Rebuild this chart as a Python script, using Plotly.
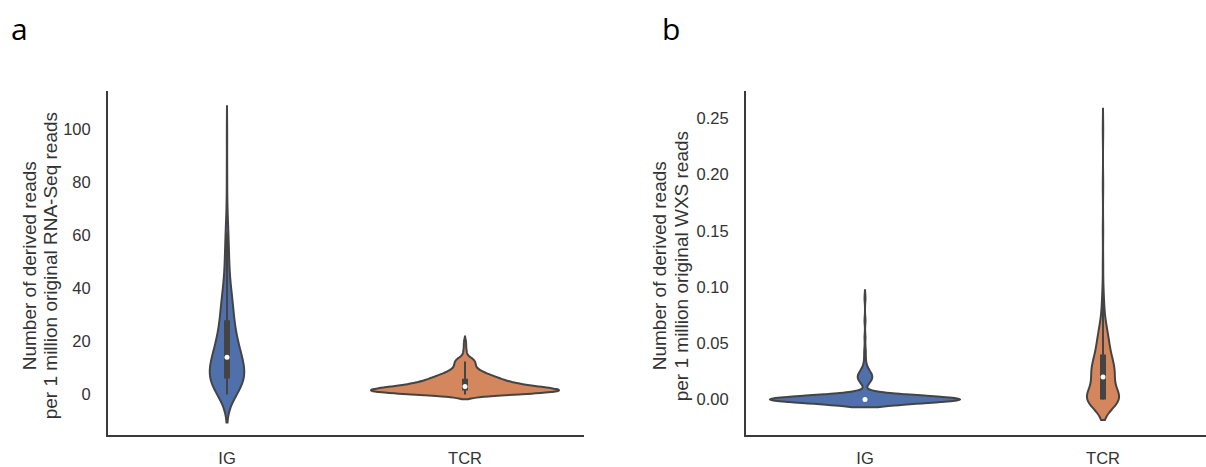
import numpy as np
import plotly.graph_objects as go

categories = ["IG", "TCR"]

# Panel a: derived reads per 1 million RNA-Seq reads (sample values and how many samples share each)
ig_rna_values = [0, 2, 4, 6, 8, 10, 12, 14, 16, 18, 20, 22, 25, 28, 31, 34, 37, 40, 44, 48, 52, 56, 60, 64, 68, 75, 85, 98]
ig_rna_counts = [11, 15, 17, 19, 19, 17, 15, 13, 12, 11, 10, 10, 10, 10, 9, 8, 7, 6, 5, 4, 4, 3, 3, 2, 1, 1, 1, 1]
tcr_rna_values = [0, 0.5, 1, 1.5, 2, 2.5, 3, 3.5, 4, 4.5, 5, 5.5, 6, 6.5, 7, 7.5, 8, 8.5, 9, 9.5,
                  10, 10.5, 11, 11.5, 12, 12.5, 13, 13.5, 14, 15, 16, 17, 18.5, 20]
tcr_rna_counts = [20, 26, 30, 31, 28, 24, 20, 17, 15, 13, 12, 11, 10, 9, 8, 7, 6, 5, 4, 4,
                  3, 3, 3, 3, 3, 3, 3, 2, 2, 1, 1, 1, 1, 1]

# Panel b: derived reads per 1 million WXS reads
ig_wxs_values = [0, 0.014, 0.017, 0.02, 0.023, 0.026, 0.03, 0.035, 0.04, 0.045, 0.055, 0.07, 0.09]
ig_wxs_counts = [200, 3, 5, 7, 5, 3, 2, 1, 1, 1, 1, 1, 1]
tcr_wxs_values = [0, 0.005, 0.01, 0.015, 0.02, 0.025, 0.03, 0.035, 0.04, 0.045, 0.05, 0.055, 0.06,
                  0.065, 0.07, 0.08, 0.09, 0.1, 0.12, 0.15, 0.19, 0.24]
tcr_wxs_counts = [65, 4, 6, 10, 15, 15, 13, 10, 8, 7, 7, 6, 5, 4, 3, 3, 2, 1, 1, 1, 1, 1]

W, H = 1206, 467
FILL = {"IG": "#5070ac", "TCR": "#d4865c"}
EDGE = "#444444"
AXC = "#3a3a3a"
TXT = "#333333"
FONT = "Liberation Sans, Arial, sans-serif"


def expand(values, counts):
    return np.repeat(np.array(values, dtype=float), np.array(counts, dtype=int))


panels = [
    # (xaxis, yaxis, data per category, bandwidths, violin widths)
    ("x", "y", [expand(ig_rna_values, ig_rna_counts), expand(tcr_rna_values, tcr_rna_counts)],
     [5.3, 0.9], [0.145, 0.79]),
    ("x2", "y2", [expand(ig_wxs_values, ig_wxs_counts), expand(tcr_wxs_values, tcr_wxs_counts)],
     [0.0035, 0.0092], [0.80, 0.135]),
]

fig = go.Figure()
for xa, ya, datasets, bws, widths in panels:
    for i, (cat, d) in enumerate(zip(categories, datasets)):
        fig.add_trace(go.Violin(
            x=np.full(len(d), i), y=d, xaxis=xa, yaxis=ya,
            bandwidth=bws[i], width=widths[i], scalemode="width", spanmode="soft",
            fillcolor=FILL[cat], line=dict(color=EDGE, width=2), opacity=1,
            points=False, box_visible=False, meanline_visible=False,
            showlegend=False, hoverinfo="skip",
        ))
        q1, q2, q3 = np.percentile(d, [25, 50, 75])
        iqr = q3 - q1
        lo = max(q1 - 1.5 * iqr, d.min())
        hi = min(q3 + 1.5 * iqr, d.max())
        fig.add_trace(go.Scatter(x=[i, i], y=[lo, hi], xaxis=xa, yaxis=ya, mode="lines",
                                 line=dict(color=EDGE, width=2), showlegend=False, hoverinfo="skip"))
        fig.add_trace(go.Scatter(x=[i, i], y=[q1, q3], xaxis=xa, yaxis=ya, mode="lines",
                                 line=dict(color=EDGE, width=6), showlegend=False, hoverinfo="skip"))
        fig.add_trace(go.Scatter(x=[i], y=[q2], xaxis=xa, yaxis=ya, mode="markers",
                                 marker=dict(color="white", size=5, line=dict(width=0)),
                                 showlegend=False, hoverinfo="skip"))

y_dom = [(H - 438) / H, (H - 92) / H]
common_x = dict(showline=True, linecolor=AXC, linewidth=2, showgrid=False, zeroline=False,
                tickvals=[0, 1], ticktext=categories, ticks="", ticklabelstandoff=7,
                tickfont=dict(family=FONT, size=16.5, color=TXT), fixedrange=True)
common_y = dict(showline=True, linecolor=AXC, linewidth=2, showgrid=False, zeroline=False,
                ticks="", ticklabelstandoff=12, tickfont=dict(family=FONT, size=16.5, color=TXT),
                domain=y_dom, fixedrange=True)

fig.update_layout(
    width=W, height=H, margin=dict(l=0, r=0, t=0, b=0),
    paper_bgcolor="white", plot_bgcolor="white", showlegend=False,
    xaxis=dict(common_x, domain=[108 / W, 584 / W], range=[-0.5, 1.5], anchor="y"),
    yaxis=dict(common_y, range=[-15.36, 114.2], tickvals=[0, 20, 40, 60, 80, 100], anchor="x"),
    xaxis2=dict(common_x, domain=[746 / W, 1.0], range=[-0.5, -0.5 + 460 / 238], anchor="y2"),
    yaxis2=dict(common_y, range=[-0.0318, 0.2739], tickvals=[0, 0.05, 0.10, 0.15, 0.20, 0.25],
                tickformat=".2f", anchor="x2"),
)

title_lines = [
    (29, "Number of derived reads"), (50, "per 1 million original RNA-Seq reads"),
    (659, "Number of derived reads"), (681, "per 1 million original WXS reads"),
]
for xpx, text in title_lines:
    fig.add_annotation(x=xpx / W, y=(H - 268) / H, xref="paper", yref="paper", text=text,
                       textangle=-90, showarrow=False, xanchor="center", yanchor="middle",
                       font=dict(family=FONT, size=19, color=TXT))

for xpx, letter in [(19, "a"), (671, "b")]:
    fig.add_annotation(x=xpx / W, y=(H - 29) / H, xref="paper", yref="paper", text=letter,
                       showarrow=False, xanchor="center", yanchor="middle",
                       font=dict(family="Open Sans, sans-serif", size=30, color="black"))

fig.write_html("out.html")
